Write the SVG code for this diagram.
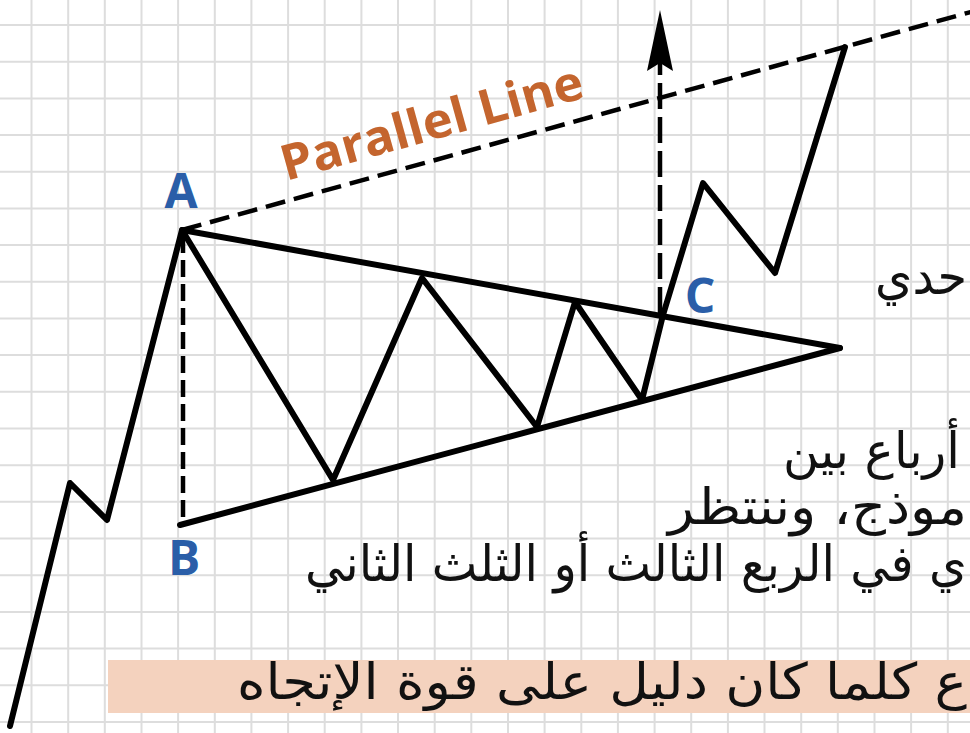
<svg xmlns="http://www.w3.org/2000/svg" width="970" height="733" viewBox="0 0 970 733">
<style>
.grid{stroke:#dddddd;stroke-width:2;fill:none}
.solid{fill:none;stroke:#000;stroke-width:6;stroke-linejoin:round;stroke-linecap:round}
.dash{fill:none;stroke:#000;stroke-width:4.5}
.lbl{font-family:"Open Sans","DejaVu Sans",sans-serif;font-weight:bold;font-size:48px;fill:#2a5ea8;text-anchor:middle}
.ar{font-family:"DejaVu Sans",sans-serif;fill:#111;font-size:50px}
</style>
<rect width="970" height="733" fill="#ffffff"/>
<g id="grid">
<path class="grid" d="M31.5 0V733M68.2 0V733M104.8 0V733M141.5 0V733M178.1 0V733M214.8 0V733M251.4 0V733M288.1 0V733M324.7 0V733M361.4 0V733M398 0V733M434.7 0V733M471.3 0V733M508 0V733M544.6 0V733M581.3 0V733M617.9 0V733M654.6 0V733M691.2 0V733M727.9 0V733M764.5 0V733M801.2 0V733M837.8 0V733M874.5 0V733M911.1 0V733M947.8 0V733M0 25H970M0 61.7H970M0 98.4H970M0 135H970M0 171.7H970M0 208.4H970M0 245.1H970M0 281.8H970M0 318.4H970M0 355.1H970M0 391.8H970M0 428.5H970M0 465.2H970M0 501.8H970M0 538.5H970M0 575.2H970M0 611.9H970M0 648.6H970M0 685.2H970M0 721.9H970"/>
</g>
<g id="connectors">
<polyline id="price" class="solid" points="10,726 70,483 107,520 182,230 333,480 422,278 537,427 575,302 642,400 663,315 703,183 775,273 845,47"/>
<line id="upper-trend" class="solid" x1="182" y1="230" x2="840" y2="348"/>
<line id="lower-trend" class="solid" x1="180" y1="525" x2="840" y2="348"/>
<line id="parallel" class="dash" x1="182" y1="230" x2="978" y2="10" stroke-dasharray="20 9"/>
<line id="ab-dash" class="dash" x1="183" y1="236" x2="183" y2="522" stroke-dasharray="17 7"/>
<line id="c-arrow" class="dash" x1="660" y1="313" x2="660" y2="62" stroke-dasharray="26 8"/>
<polygon points="660,10 673,71 660,63 647,71" fill="#000"/>
</g>
<g id="label-A"><text class="lbl" x="181" y="208">A</text></g>
<g id="label-B"><text class="lbl" x="184" y="575">B</text></g>
<g id="label-C"><text class="lbl" x="700" y="313">C</text></g>
<g id="parallel-label"><text transform="translate(286,181) rotate(-15.6)" x="0" y="0" font-family="'Open Sans','DejaVu Sans',sans-serif" font-weight="bold" font-size="49" fill="#c4652e" textLength="312" lengthAdjust="spacingAndGlyphs">Parallel Line</text></g>
<g id="text-1"><text class="ar" x="875" y="294" font-size="46" textLength="92" lengthAdjust="spacingAndGlyphs">حدي</text></g>
<g id="text-2">
<text class="ar" x="783" y="468" textLength="177" lengthAdjust="spacingAndGlyphs">أرباع بين</text>
<text class="ar" x="668" y="524" textLength="299" lengthAdjust="spacingAndGlyphs">موذج، وننتظر</text>
<text class="ar" x="305" y="581" textLength="662" lengthAdjust="spacingAndGlyphs">ي في الربع الثالث أو الثلث الثاني</text>
</g>
<g id="note">
<rect x="108" y="660" width="862" height="53" fill="#f4d2be"/>
<text class="ar" x="237" y="699" font-size="46" textLength="730" lengthAdjust="spacingAndGlyphs">ع كلما كان دليل  على قوة الإتجاه</text>
</g>
</svg>
